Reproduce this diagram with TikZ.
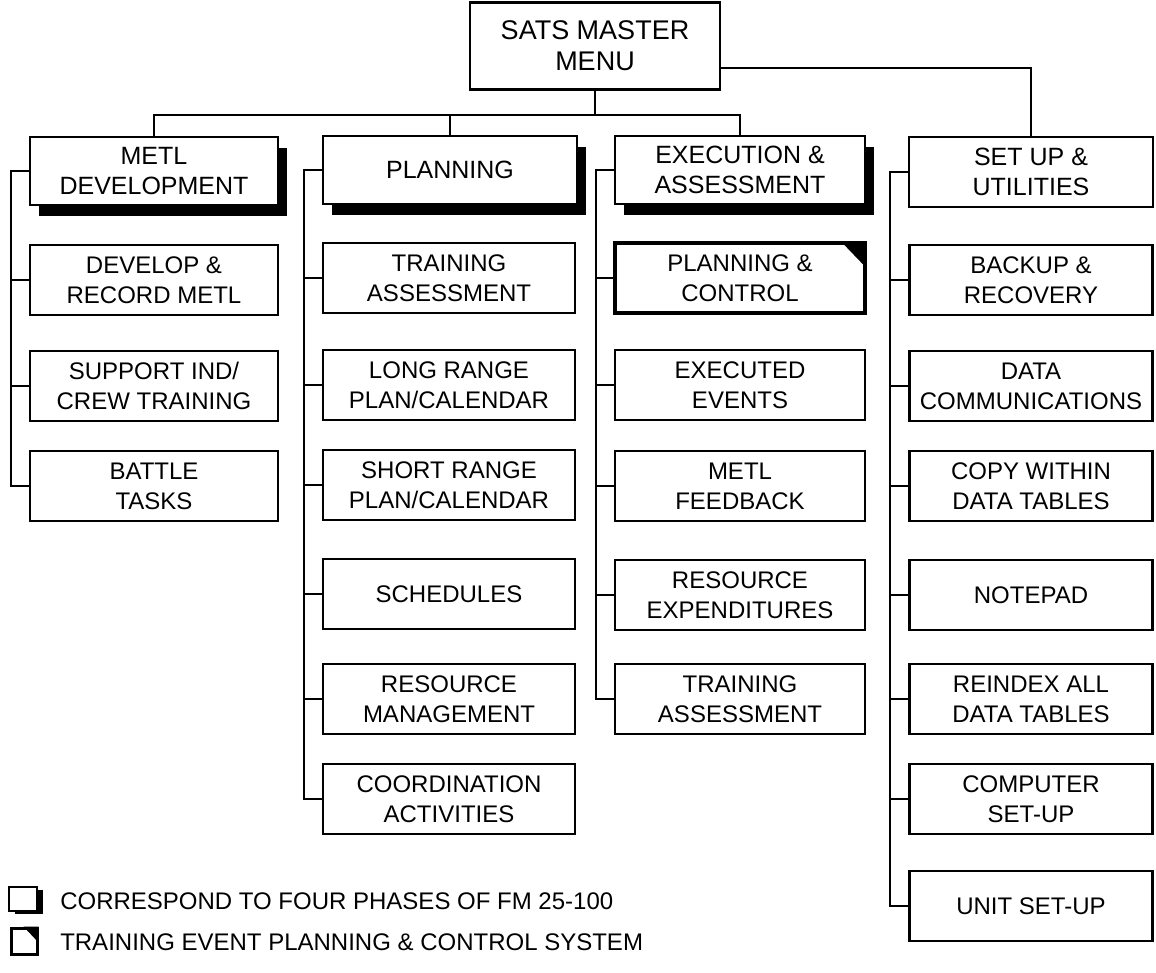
\documentclass[tikz,border=0pt]{standalone}
\usepackage{fontspec}
\setmainfont{Liberation Sans}
\usetikzlibrary{shadows}

\begin{document}
\begin{tikzpicture}[x=1pt,y=-1pt,line width=2.5pt,
	box/.style={draw,fill=white,line width=2.5pt,minimum width=#1,minimum height=70pt,
		inner sep=0pt,align=center,font=\fontsize{24}{30}\selectfont},
	box/.default=250pt,
	phase/.style={box=#1,minimum height=68pt,font=\fontsize{25}{30}\selectfont,
		drop shadow={shadow xshift=9pt,shadow yshift=-11pt,fill=black,opacity=1}},
	tepcs/.style={box=#1,line width=3.5pt},
	keytext/.style={anchor=west,inner sep=0pt,font=\fontsize{24}{30}\selectfont}]

\useasboundingbox (0,0) rectangle (1156,972);

\def\entry#1#2#3#4{
	\node[box=#2] (#1) at (#3) {#4};
}

\node[box=250pt,minimum height=87pt,font=\fontsize{27}{31}\selectfont] (master) at (595,46) {SATS MASTER\\MENU};

\node[phase=248pt] (metl) at (154,171) {METL\\DEVELOPMENT};
\node[phase=254pt] (plan) at (450,170) {PLANNING};
\node[phase=250pt] (exec) at (740,170) {EXECUTION \&\\ASSESSMENT};
\node[box=244pt,font=\fontsize{25}{30}\selectfont] (setup) at (1031,172) {SET UP \&\\UTILITIES};

\entry{m1}{248pt}{154,280}{DEVELOP \&\\RECORD METL}
\entry{m2}{248pt}{154,386}{SUPPORT IND/\\CREW TRAINING}
\entry{m3}{248pt}{154,486}{BATTLE\\TASKS}

\entry{p1}{252pt}{449,278}{TRAINING\\ASSESSMENT}
\entry{p2}{252pt}{449,385}{LONG RANGE\\PLAN/CALENDAR}
\entry{p3}{252pt}{449,485}{SHORT RANGE\\PLAN/CALENDAR}
\entry{p4}{252pt}{449,594}{SCHEDULES}
\entry{p5}{252pt}{449,699}{RESOURCE\\MANAGEMENT}
\entry{p6}{252pt}{449,799}{COORDINATION\\ACTIVITIES}

\node[tepcs=250pt] (e1) at (740,278) {PLANNING \&\\CONTROL};
\fill (e1.north east) -- ++(-26,0) -- ++(26,27) -- cycle;
\entry{e2}{250pt}{740,385}{EXECUTED\\EVENTS}
\entry{e3}{250pt}{740,486}{METL\\FEEDBACK}
\entry{e4}{250pt}{740,595}{RESOURCE\\EXPENDITURES}
\entry{e5}{250pt}{740,699}{TRAINING\\ASSESSMENT}

\entry{s1}{243pt}{1031,280}{BACKUP \&\\RECOVERY}
\entry{s2}{243pt}{1031,386}{DATA\\COMMUNICATIONS}
\entry{s3}{243pt}{1031,486}{COPY WITHIN\\DATA TABLES}
\entry{s4}{243pt}{1031,595}{NOTEPAD}
\entry{s5}{243pt}{1031,699}{REINDEX ALL\\DATA TABLES}
\entry{s6}{243pt}{1031,799}{COMPUTER\\SET-UP}
\entry{s7}{243pt}{1031,906}{UNIT SET-UP}

\coordinate (bus) at (0,115);
\draw (master.south) -- (master.south |- bus);
\draw (metl.north) -- (metl.north |- bus) -- (exec.north |- bus) -- (exec.north);
\draw (plan.north) -- (plan.north |- bus);
\draw ([yshift=-22pt]master.east) -| (setup.north);

\foreach \head/\last in {metl/m3,plan/p6,exec/e5,setup/s7}
	\draw (\head.west) -- ++(-18,0) |- (\last.west);
\foreach \b in {m1,m2,p1,p2,p3,p4,p5,e2,e3,e4,s1,s2,s3,s4,s5,s6}
	\draw (\b.west) -- ++(-18,0);
\draw (e1.west) -- ++(-17,0);

\node[draw,fill=white,line width=2.5pt,minimum width=28pt,minimum height=24pt,inner sep=0pt,
	drop shadow={shadow xshift=6pt,shadow yshift=-3pt,fill=black,opacity=1}] (keyphase) at (23,899) {};
\node[keytext] (keyphasetext) at (59,901) {CORRESPOND TO FOUR PHASES OF FM 25-100};
\node[draw,line width=3pt,minimum width=26pt,minimum height=26pt,inner sep=0pt] (keypc) at (24,941) {};
\fill (keypc.north east) -- ++(-15,0) -- ++(15,16) -- cycle;
\node[keytext] (keypctext) at (59,942) {TRAINING EVENT PLANNING \& CONTROL SYSTEM};

\end{tikzpicture}
\end{document}
